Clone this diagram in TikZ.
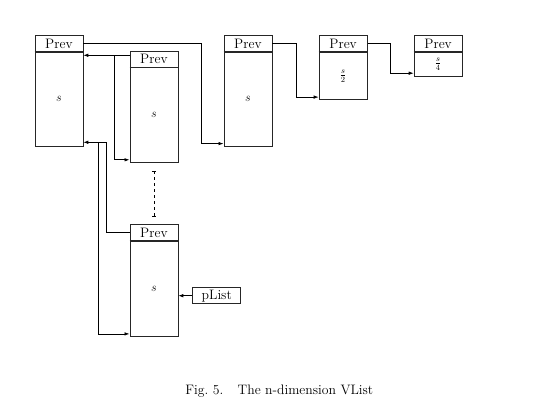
\documentclass[tikz,border=0pt]{standalone}
\usetikzlibrary{arrows.meta,calc}
\begin{document}
\begin{tikzpicture}[x=1pt,y=-1pt,
  font=\fontsize{13.7}{16}\selectfont,
  hdr/.style={draw=black!85,line width=0.8pt,minimum width=48pt,minimum height=16pt,inner sep=0pt},
  body/.style={draw=black!85,line width=0.8pt,minimum width=48pt,inner sep=0pt,font=\fontsize{12}{14}\selectfont},
  sep/.style={line width=1.6pt,black!85},
  conn/.style={line width=0.7pt,-{Latex[length=5pt,width=3.5pt]}},
  plain/.style={line width=0.7pt}
]
\useasboundingbox (0,0) rectangle (550,417);
% box 1
\node[hdr,anchor=north west] (h1) at (34.5,35) {Prev};
\node[body,anchor=north west,minimum height=94pt] (b1) at (h1.south west) {$s$};
\draw[sep] (h1.south west) -- (h1.south east);
% box 2
\node[hdr,anchor=north west] (h2) at (129.5,50.7) {Prev};
\node[body,anchor=north west,minimum height=94.5pt] (b2) at (h2.south west) {$s$};
\draw[sep] (h2.south west) -- (h2.south east);
% box 3
\node[hdr,anchor=north west] (h3) at (223.5,35) {Prev};
\node[body,anchor=north west,minimum height=94pt] (b3) at (h3.south west) {$s$};
\draw[sep] (h3.south west) -- (h3.south east);
% box 4
\node[hdr,anchor=north west] (h4) at (318.7,35) {Prev};
\node[body,anchor=north west,minimum height=47.5pt] (b4) at (h4.south west) {$\frac{s}{2}$};
\draw[sep] (h4.south west) -- (h4.south east);
% box 5
\node[hdr,anchor=north west] (h5) at (413.7,35) {Prev};
\node[body,anchor=north west,minimum height=24pt] (b5) at (h5.south west) {$\frac{s}{4}$};
\draw[sep] (h5.south west) -- (h5.south east);
% box 6
\node[hdr,anchor=north west] (h6) at (129.5,224.3) {Prev};
\node[body,anchor=north west,minimum height=95pt] (b6) at (h6.south west) {$s$};
\draw[sep] (h6.south west) -- (h6.south east);
% pList
\node[hdr,anchor=north west] (pl) at (192.3,287.3) {pList};
% connectors
\draw[conn] (h1.east) -- ++(118,0) |- ([yshift=3pt]b3.south west);
\draw[conn] (h3.east) -- ++(24,0) |- ([yshift=3pt]b4.south west);
\draw[conn] (h4.east) -- ++(23.3,0) |- ([yshift=3.4pt]b5.south west);
\coordinate (p1) at ([yshift=-3.5pt]b1.north east);
\draw[conn] (p1 -| h2.west) -- (p1);
\draw[conn] ([xshift=31.2pt]p1) |- ([yshift=3pt]b2.south west);
\coordinate (p2) at ([yshift=4.3pt]b1.south east);
\draw[conn] (h6.west) -- ++(-23.5,0) |- (p2);
\draw[conn] ([xshift=15.5pt]p2) |- ([yshift=3pt]b6.south west);
\draw[conn] (pl.west) -- (b6.east |- pl.west);
\draw[plain,dashed,{Bar[width=4pt]}-{Bar[width=4pt]}] ([yshift=-8pt]b2.south) -- ([yshift=8pt]h6.north);
% caption
\node (cap) at (279.3,391) {Fig.~5.\hspace{1.05em}The n-dimension VList};
\end{tikzpicture}
\end{document}
